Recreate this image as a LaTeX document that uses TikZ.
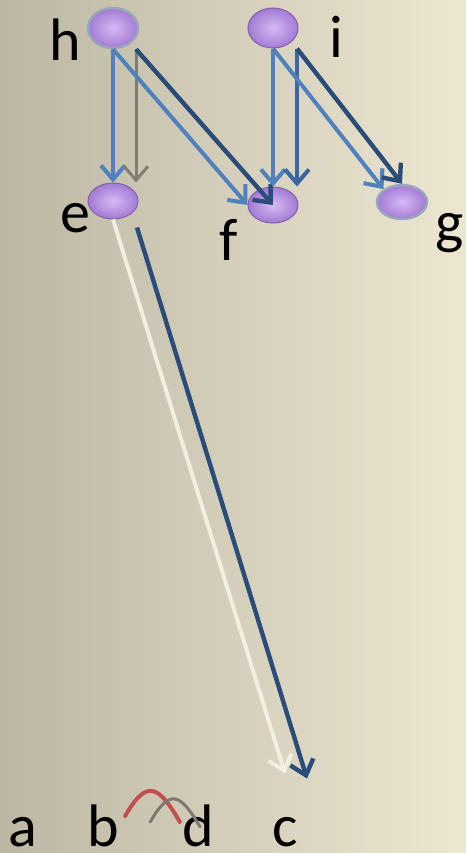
\documentclass[tikz,border=0pt]{standalone}
\usepackage{fontspec}
\setmainfont{Carlito}
\usetikzlibrary{shapes.geometric,arrows.meta}

\definecolor{bgleft}{RGB}{188,183,163}
\definecolor{bgright}{RGB}{237,231,210}
\definecolor{arrowblue}{RGB}{79,129,189}
\definecolor{darkblue}{RGB}{42,76,120}
\definecolor{midblue}{RGB}{58,104,160}
\definecolor{greyarrow}{RGB}{130,125,115}
\definecolor{cream}{RGB}{242,238,225}
\definecolor{arcred}{RGB}{192,80,77}
\definecolor{arcgrey}{RGB}{125,121,110}
\definecolor{nodein}{RGB}{214,186,244}
\definecolor{nodeout}{RGB}{163,122,212}
\definecolor{nodeedge}{RGB}{150,168,188}

\tikzset{
  var/.style={ellipse, minimum width=25pt, minimum height=20pt, inner sep=0pt,
    inner color=nodein, outer color=nodeout, draw=nodeout!80!black, line width=0.5pt},
  rim/.style={draw=nodeedge, line width=1.2pt},
  lbl/.style={font=\fontsize{30pt}{36pt}\selectfont, inner sep=0pt, anchor=base},
  link/.style={-{Straight Barb[length=7pt,width=12pt]}, line width=2pt, draw=arrowblue},
  midlink/.style={link, draw=midblue},
  darklink/.style={link, draw=darkblue, line width=2.2pt},
  greylink/.style={link, draw=greyarrow, line width=1.5pt},
  whitelink/.style={link, draw=cream},
  arcline/.style={line width=2pt, line cap=round}
}

\begin{document}
\begin{tikzpicture}[x=0.5pt, y=-0.5pt]

        % background
        \shade[left color=bgleft, right color=bgright] (0,0) rectangle (466,853);
        \useasboundingbox (0,0) rectangle (466,853);

        % variables
        \node[var, rim] (h) at (113,28) {};
        \node[var] (i) at (273,28) {};
        \node[var, minimum height=18pt] (e) at (113,201) {};
        \node[var, minimum height=18pt] (f) at (273,205) {};
        \node[var, rim, minimum height=17pt] (g) at (402,202) {};

        % labels
        \node[lbl] (hl) at (65,60) {h};
        \node[lbl] (il) at (336,57) {i};
        \node[lbl] (el) at (75,232) {e};
        \node[lbl] (fl) at (229,260) {f};
        \node[lbl] (gl) at (450,242) {g};
        \node[lbl] (a) at (23,846) {a};
        \node[lbl] (b) at (103,846) {b};
        \node[lbl] (d) at (198,846) {d};
        \node[lbl] (c) at (285,846) {c};

        % arrows out of h
        \draw[link] (h.south) -- (e.north);
        \draw[greylink] ([xshift=11.5pt]h.south) -- ([xshift=11.5pt]e.north);
        \draw[link] (h.south) -- (f.west);
        \draw[darklink] ([xshift=11.5pt]h.south) -- (f.center);

        % arrows out of i
        \draw[link] (i.south) -- (f.north);
        \draw[midlink] ([xshift=12pt]i.south) -- ([xshift=12pt]f.north);
        \draw[link] (i.south) -- (g.north west);
        \draw[darklink] ([xshift=12pt]i.south) -- (g.north);

        % arrows from e down to c
        \draw[whitelink] (e.south) -- ([yshift=21.5pt]c.north);
        \draw[darklink] ([shift={(12pt,-4pt)}]e.south) -- ([shift={(11pt,19pt)}]c.north);

        % arcs between b and d
        \draw[arcline, draw=arcred] ([shift={(3pt,-6pt)}]b.north east)
            to[out=60, in=120, looseness=2] ([shift={(-1pt,-9pt)}]d.north west);
        \draw[arcline, draw=arcgrey, line width=1.5pt] ([shift={(15.5pt,-9pt)}]b.north east)
            to[out=60, in=120, looseness=2] ([shift={(1pt,-11.5pt)}]d.north);

    \end{tikzpicture}
\end{document}
